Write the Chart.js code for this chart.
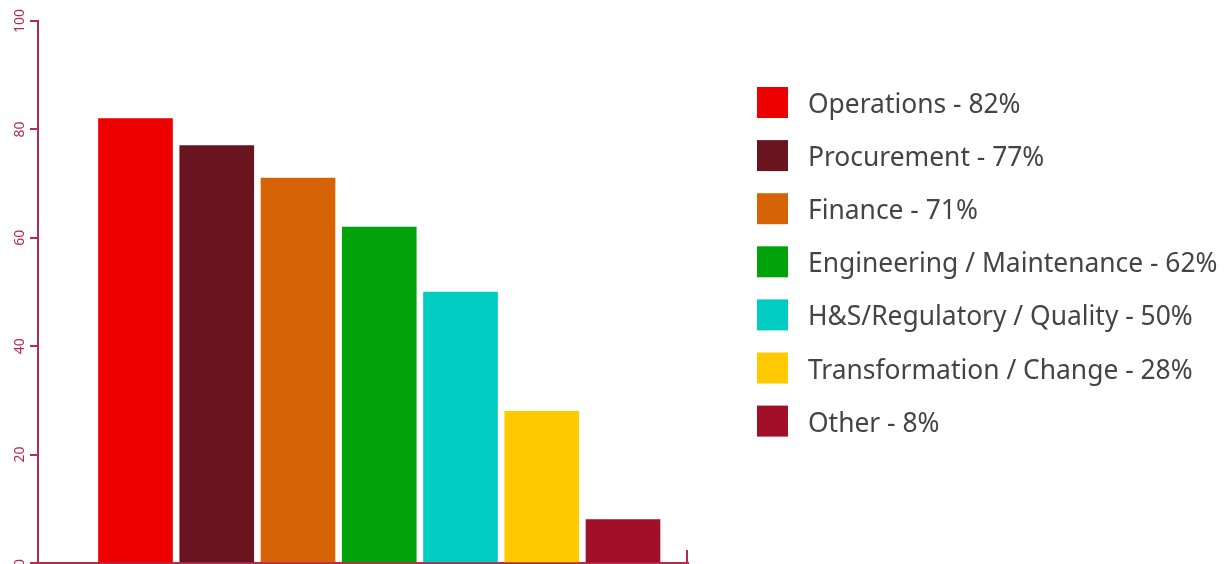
<!DOCTYPE html>
<html>
<head>
<meta charset="utf-8">
<script src="https://cdn.jsdelivr.net/npm/chart.js@4/dist/chart.umd.min.js"></script>
<style>
  html, body { margin: 0; padding: 0; background: #ffffff; }
  #wrap { width: 1226px; height: 564px; position: relative; }
</style>
</head>
<body>
<div id="wrap"><canvas id="chart" width="1226" height="564"></canvas></div>
<script>
// Departments and their share (%)
const categories = [
  'Operations',
  'Procurement',
  'Finance',
  'Engineering / Maintenance',
  'H&S/Regulatory / Quality',
  'Transformation / Change',
  'Other'
];
const values = [82, 77, 71, 62, 50, 28, 8];
const colors = ['#ee0000', '#6a1420', '#d66406', '#00a30a', '#00cdc1', '#ffcb00', '#a10f28'];
const yTicks = [0, 20, 40, 60, 80, 100];

const axisColor = '#b52a4f';

// Rotated y tick labels, the small end mark on the x axis and the side legend
const decorations = {
  id: 'decorations',
  afterDraw(chart) {
    const ctx = chart.ctx;
    const area = chart.chartArea;
    const ys = chart.scales.y;
    ctx.save();

    // y tick labels, reading bottom to top
    ctx.fillStyle = axisColor;
    ctx.font = '14px "Noto Sans"';
    ctx.textAlign = 'center';
    ctx.textBaseline = 'middle';
    yTicks.forEach(v => {
      ctx.save();
      ctx.translate(area.left - 18, ys.getPixelForValue(v));
      ctx.rotate(-Math.PI / 2);
      ctx.fillText(String(v), 0, 0);
      ctx.restore();
    });

    // end mark at the right of the x axis
    ctx.strokeStyle = axisColor;
    ctx.lineWidth = 2;
    ctx.beginPath();
    ctx.moveTo(area.right - 1, area.bottom);
    ctx.lineTo(area.right - 1, area.bottom - 13);
    ctx.stroke();

    // legend
    const boxX = area.right + 69;
    const top = 87;
    const pitch = 53.1;
    const box = 31;
    ctx.font = '26.4px "Noto Sans"';
    ctx.textAlign = 'left';
    ctx.textBaseline = 'middle';
    categories.forEach((name, i) => {
      const y = top + i * pitch;
      ctx.fillStyle = colors[i];
      ctx.fillRect(boxX, y, box, box);
      ctx.fillStyle = '#444444';
      ctx.fillText(name + ' - ' + values[i] + '%', boxX + 51, y + box / 2 + 3);
    });
    ctx.restore();
  }
};

new Chart(document.getElementById('chart'), {
  type: 'bar',
  data: {
    datasets: [{
      data: values.map((v, i) => ({ x: i, y: v })),
      backgroundColor: colors,
      borderWidth: 0,
      barThickness: 74
    }]
  },
  options: {
    responsive: false,
    animation: false,
    devicePixelRatio: 1,
    layout: { padding: { left: 30, top: 21, right: 538, bottom: 1 } },
    plugins: { legend: { display: false }, tooltip: { enabled: false } },
    scales: {
      x: {
        type: 'linear',
        min: -1.2,
        max: 6.8,
        offset: false,
        ticks: { display: false },
        grid: { display: false, drawTicks: false },
        border: { display: true, color: axisColor, width: 2 }
      },
      y: {
        min: 0,
        max: 100,
        ticks: { display: false, stepSize: 20 },
        grid: { drawOnChartArea: false, drawTicks: true, tickLength: 8, color: axisColor, lineWidth: 2 },
        border: { display: true, color: axisColor, width: 2 }
      }
    }
  },
  plugins: [decorations]
});
</script>
</body>
</html>
